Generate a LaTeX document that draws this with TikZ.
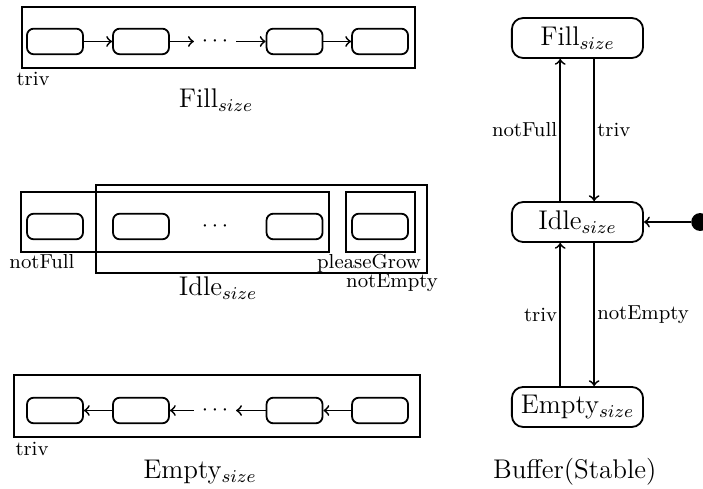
\documentclass[tikz,border=0pt]{standalone}
\begin{document}
\begin{tikzpicture}
	\tikzstyle{cell}=[rectangle,rounded corners=3pt,thick,draw=black,minimum width=8.75mm,minimum height=4mm,inner sep=0pt]
	\tikzstyle{state}=[rectangle,rounded corners=5pt,thick,draw=black,minimum width=20.5mm,minimum height=6.25mm,inner sep=1pt,font=\large]
	\tikzstyle{frame}=[draw, thick]
	\tikzstyle{edge}=[draw, thick, ->]
	\tikzstyle{lbl}=[font=\small, inner sep=1pt]
	\tikzstyle{title}=[font=\large]
	\useasboundingbox (0,0) rectangle (10.984,7.625);
	% Fill
	\begin{scope}
		\draw[frame] (0.344,6.5625) rectangle (6.484,7.516);
		\node [cell] (f1) at (0.859,6.977) {};
		\node [cell] (f2) at (2.203,6.977) {};
		\node (fd) at (3.359,6.977) {$\cdots$};
		\node [cell] (f3) at (4.602,6.977) {};
		\node [cell] (f4) at (5.938,6.977) {};
		\path[edge] (f1) -- (f2);
		\path[edge] (f2) -- (fd);
		\path[edge] (fd) -- (f3);
		\path[edge] (f3) -- (f4);
		\node [lbl] (ftriv) at (0.516,6.391) {triv};
		\node [title] (ftitle) at (3.375,6.06) {Fill$_{size}$};
	\end{scope}
	% Idle
	\begin{scope}
		\draw[frame] (0.328,3.6875) rectangle (5.141,4.625);
		\draw[frame] (1.5,3.359) rectangle (6.672,4.734);
		\draw[frame] (5.406,3.6875) rectangle (6.484,4.625);
		\node [cell] (i1) at (0.859,4.086) {};
		\node [cell] (i2) at (2.203,4.086) {};
		\node (id) at (3.359,4.086) {$\cdots$};
		\node [cell] (i3) at (4.602,4.086) {};
		\node [cell] (i4) at (5.938,4.086) {};
		\node [lbl] (inotfull) at (0.656,3.531) {notFull};
		\node [lbl] (igrow) at (5.766,3.516) {pleaseGrow};
		\node [lbl] (inotempty) at (6.125,3.203) {notEmpty};
		\node [title] (ititle) at (3.406,3.125) {Idle$_{size}$};
	\end{scope}
	% Empty
	\begin{scope}
		\draw[frame] (0.219,0.797) rectangle (6.5625,1.766);
		\node [cell] (e1) at (0.859,1.211) {};
		\node [cell] (e2) at (2.203,1.211) {};
		\node (ed) at (3.359,1.211) {$\cdots$};
		\node [cell] (e3) at (4.602,1.211) {};
		\node [cell] (e4) at (5.938,1.211) {};
		\path[edge] (e2) -- (e1);
		\path[edge] (ed) -- (e2);
		\path[edge] (e3) -- (ed);
		\path[edge] (e4) -- (e3);
		\node [lbl] (etriv) at (0.5,0.609) {triv};
		\node [title] (etitle) at (3.125,0.25) {Empty$_{size}$};
	\end{scope}
	% Buffer(Stable)
	\begin{scope}
		\node [state] (fill) at (9.023,7.031) {Fill$_{size}$};
		\node [state] (idle) at (9.023,4.156) {Idle$_{size}$};
		\node [state] (empty) at (9.023,1.266) {Empty$_{size}$};
		\node [circle,fill=black,inner sep=0pt,minimum size=2.8mm] (init) at (10.94,4.156) {};
		\path[edge] ([xshift=-0.27cm]idle.north) -- node[lbl,left] {notFull} ([xshift=-0.27cm]fill.south);
		\path[edge] ([xshift=0.26cm]fill.south) -- node[lbl,right] {triv} ([xshift=0.26cm]idle.north);
		\path[edge] ([xshift=-0.27cm]empty.north) -- node[lbl,left] {triv} ([xshift=-0.27cm]idle.south);
		\path[edge] ([xshift=0.26cm]idle.south) -- node[lbl,right] {notEmpty} ([xshift=0.26cm]empty.north);
		\path[edge] (init) -- (idle);
		\node [title] (btitle) at (8.98,0.25) {Buffer(Stable)};
	\end{scope}
\end{tikzpicture}
\end{document}
